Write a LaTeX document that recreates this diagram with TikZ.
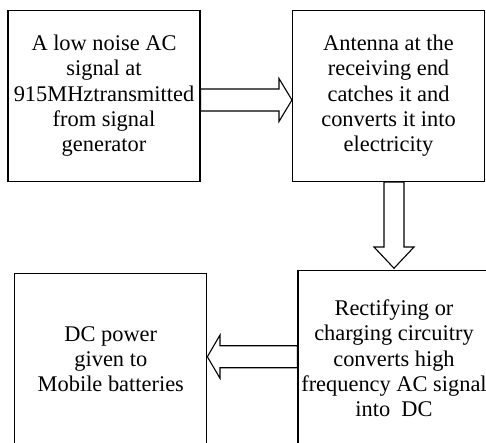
\documentclass[tikz,border=0pt]{standalone}
\usepackage{fontspec}
\setmainfont{Liberation Serif}
\usetikzlibrary{positioning}

\begin{document}
\begin{tikzpicture}[x=1pt,y=-1pt,line width=1.1pt,
  box/.style={draw,align=center,inner sep=0pt,minimum width=192pt,minimum height=171.5pt,font=\fontsize{22.4}{25.3}\selectfont},
  hollow/.style={draw,fill=white,line join=miter}]
\useasboundingbox (0,0) rectangle (486,442);
\clip (0,0) rectangle (486,442);
\node[box] (gen) at (104,95.8) {A low noise AC\\signal at\\915MHztransmitted\\from signal\\generator};
\node[box] (ant) at (388.5,95.8) {Antenna at the\\receiving end\\catches it and\\converts it into\\electricity};
\node[box,minimum height=175pt] (rect) at (394,358.3) {Rectifying or\\charging circuitry\\converts high\\frequency AC signal\\into\ \ DC};
\node[box] (batt) at (110.8,359) {DC power\\given to\\Mobile batteries};
% block arrows between the boxes
\draw[hollow] (gen.east |- 0,89) -- (279,89) -- (279,78.5) -- (ant.west |- 0,100) -- (279,121.5) -- (279,111) -- (gen.east |- 0,111) -- cycle;
\draw[hollow] (ant.south -| 384,0) -- (384,247) -- (374,247) -- ([yshift=2pt]rect.north) -- (414,247) -- (404,247) -- (ant.south -| 404,0) -- cycle;
\draw[hollow] (rect.west |- 0,345.7) -- (220,345.7) -- (220,335) -- (batt.east |- 0,356.7) -- (220,378.3) -- (220,367.7) -- (rect.west |- 0,367.7) -- cycle;
\end{tikzpicture}
\end{document}
